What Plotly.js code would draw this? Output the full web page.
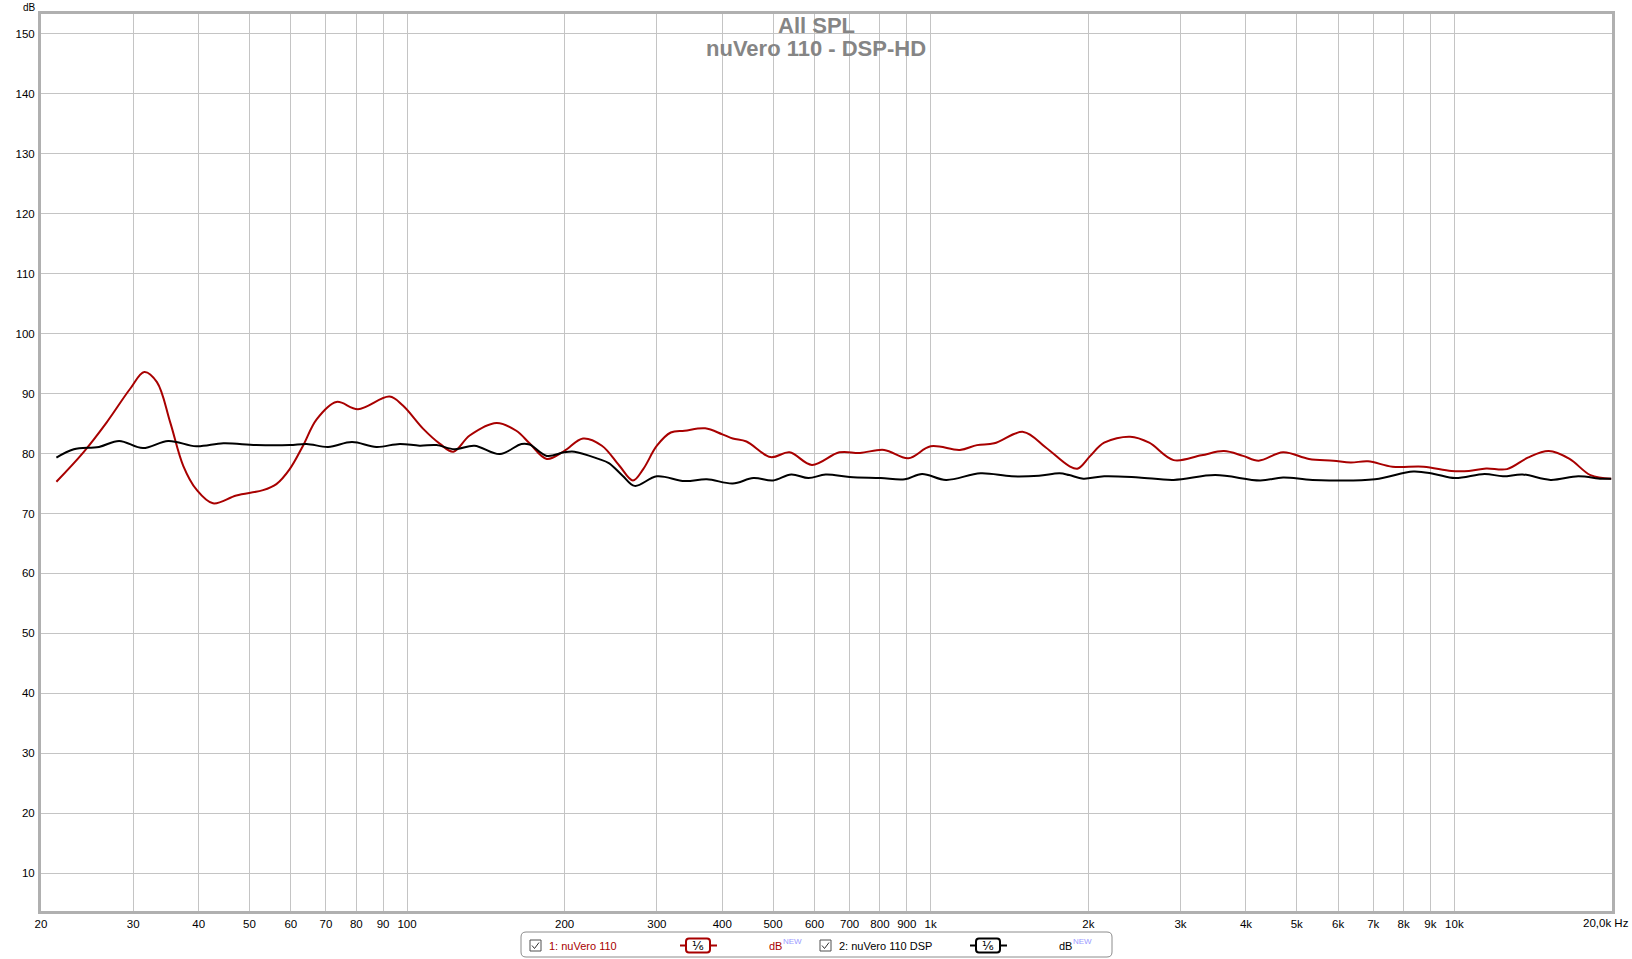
<!DOCTYPE html>
<html>
<head>
<meta charset="utf-8">
<script src="https://cdn.plot.ly/plotly-3.0.1.min.js"></script>
<style>html,body{margin:0;padding:0;background:#fff;}#chart{width:1632px;height:959px;}</style>
</head>
<body>
<div id="chart"></div>
<script>
// ---- data ----
const redFreq = [21.4,24.1,26.7,29.6,31.5,33.3,35.3,37.4,39.6,42.6,47.2,53.1,56.3,59.7,63.3,67.2,73.3,80.6,92.6,98.2,107.4,115.6,122.6,131.7,148.2,161.7,171.4,184.9,199.5,216.8,235.6,254.2,270,282.5,300,318.9,338.9,370.9,400.1,418.8,444.8,494.6,537.6,593.2,669.4,733,815,906,1000,1137,1226,1322,1503,1659,1839,1911,2017,2144,2404,2614,2910,3288,3631,3948,4229,4708,5277,5875,6339,6842,7613,8738,9870,10655,11500,12605,13810,15145,16595,18190,19930];
const redDb = [75.3,80.2,85.2,90.8,93.6,91.9,85.2,77.9,74.0,71.7,73.0,73.9,74.9,77.4,81.3,85.7,88.6,87.4,89.5,88.0,84.1,81.6,80.3,83.0,85.1,83.8,81.7,79.1,80.4,82.5,81.3,78.0,75.5,77.4,81.3,83.5,83.8,84.2,83.2,82.5,82.0,79.4,80.2,78.1,80.2,80.1,80.6,79.2,81.2,80.6,81.4,81.7,83.6,81.0,77.9,77.5,79.6,81.8,82.8,81.8,78.9,79.7,80.4,79.6,78.8,80.2,79.1,78.8,78.5,78.7,77.8,77.8,77.1,77.1,77.5,77.4,79.3,80.4,79.1,76.4,75.8];

const blackFreq = [21.4,23.1,25.8,28.2,31.3,35,39.6,44.6,51.5,59.7,64.3,70.7,78.5,87.4,96.9,105.7,113.8,123.3,134.5,150.4,165.4,171.4,184.9,199.5,208.8,232.1,242.9,258,272.1,300,338.9,373.7,418.8,458.5,500,541.6,584.2,630.1,700.2,802.7,892.3,962.5,1070,1245,1427,1610,1763,1839,1956,2144,2497,2910,3494,4260,4708,5360,7055,8347,9148,10030,11420,12380,13500,15260,17240,19100,19930];
const blackDb = [79.3,80.7,81.1,82.1,80.9,82.1,81.2,81.7,81.4,81.4,81.6,81.1,81.9,81.1,81.6,81.3,81.4,80.7,81.3,79.9,81.6,81.5,79.6,80.2,80.3,79.1,78.4,76.3,74.6,76.2,75.4,75.7,75.0,75.9,75.5,76.5,75.9,76.5,76.1,75.9,75.7,76.6,75.6,76.7,76.2,76.3,76.7,76.4,75.8,76.2,76.0,75.6,76.4,75.5,76.0,75.6,75.7,77.0,76.6,75.9,76.6,76.2,76.5,75.6,76.2,75.8,75.8];

const seriesNames = ["1: nuVero 110", "2: nuVero 110 DSP"];
const xTickVals = [20,30,40,50,60,70,80,90,100,200,300,400,500,600,700,800,900,1000,2000,3000,4000,5000,6000,7000,8000,9000,10000,20000];
const xTickText = ["20","30","40","50","60","70","80","90","100","200","300","400","500","600","700","800","900","1k","2k","3k","4k","5k","6k","7k","8k","9k","10k","20,0k Hz"];
const yTickVals = [10,20,30,40,50,60,70,80,90,100,110,120,130,140,150];
const titleLines = ["All SPL", "nuVero 110 - DSP-HD"];
const yUnit = "dB";

// ---- layout helpers (pixel -> paper) ----
const W = 1632, H = 959;
const L = 41, R = 1612, T = 14, B = 911;
const px = x => (x - L) / (R - L);
const py = y => (B - y) / (B - T);

const RED = "#a80000";
const font = "Liberation Sans, Arial, sans-serif";
const tickSize = 11.5;

const traces = [
  {x: redFreq, y: redDb, name: seriesNames[0], type: "scatter", mode: "lines",
   line: {color: RED, width: 2, shape: "spline", smoothing: 1}},
  {x: blackFreq, y: blackDb, name: seriesNames[1], type: "scatter", mode: "lines",
   line: {color: "#000000", width: 2, shape: "spline", smoothing: 1}}
];

const shapes = [];
const annotations = [];

// title, two lines
const titleFont = {family: font, size: 22, color: "#858585", weight: "bold"};
annotations.push({xref: "paper", yref: "paper", x: px(816), y: py(25.5), xanchor: "center", yanchor: "middle",
  text: "<b>" + titleLines[0] + "</b>", showarrow: false, font: titleFont});
annotations.push({xref: "paper", yref: "paper", x: px(816), y: py(48.5), xanchor: "center", yanchor: "middle",
  text: "<b>" + titleLines[1] + "</b>", showarrow: false, font: titleFont});

// last x tick label drawn as annotation (right aligned)
const lastLabel = xTickText[xTickText.length - 1];
const axisTickText = xTickText.slice(0, -1).concat([""]);
annotations.push({xref: "paper", yref: "paper", x: px(1631), y: py(915), xanchor: "right", yanchor: "top",
  text: lastLabel, showarrow: false, font: {family: font, size: tickSize, color: "#000"}});
annotations.push({xref: "paper", yref: "paper", x: px(29), y: py(0), xanchor: "center", yanchor: "top",
  text: yUnit, showarrow: false, font: {family: font, size: 10, color: "#000"}});

// legend box
function roundRect(x0, y0, x1, y1, r) {
  const X = v => px(v), Y = v => py(v);
  return `M ${X(x0 + r)} ${Y(y0)} L ${X(x1 - r)} ${Y(y0)} Q ${X(x1)} ${Y(y0)} ${X(x1)} ${Y(y0 + r)} ` +
         `L ${X(x1)} ${Y(y1 - r)} Q ${X(x1)} ${Y(y1)} ${X(x1 - r)} ${Y(y1)} L ${X(x0 + r)} ${Y(y1)} ` +
         `Q ${X(x0)} ${Y(y1)} ${X(x0)} ${Y(y1 - r)} L ${X(x0)} ${Y(y0 + r)} Q ${X(x0)} ${Y(y0)} ${X(x0 + r)} ${Y(y0)} Z`;
}
shapes.push({type: "path", xref: "paper", yref: "paper", path: roundRect(521, 932, 1112, 957, 5),
  line: {color: "#8c8c8c", width: 1}, fillcolor: "#ffffff"});

function legendItem(offset, name, color, dbColor) {
  const cx = 530 + offset;
  shapes.push({type: "rect", xref: "paper", yref: "paper", x0: px(cx), x1: px(cx + 11), y0: py(940), y1: py(951),
    line: {color: "#505050", width: 1}, fillcolor: "#ffffff"});
  shapes.push({type: "path", xref: "paper", yref: "paper",
    path: `M ${px(cx + 2)} ${py(945.5)} L ${px(cx + 4.5)} ${py(948.5)} L ${px(cx + 9)} ${py(942.5)}`,
    line: {color: "#303030", width: 1}});
  annotations.push({xref: "paper", yref: "paper", x: px(547 + offset), y: py(945.5), xanchor: "left", yanchor: "middle",
    text: name, showarrow: false, font: {family: font, size: 11, color: color}});
  const sx = 680 + offset;
  shapes.push({type: "line", xref: "paper", yref: "paper", x0: px(sx), x1: px(sx + 6), y0: py(945.5), y1: py(945.5),
    line: {color: color, width: 2}});
  shapes.push({type: "line", xref: "paper", yref: "paper", x0: px(sx + 30), x1: px(sx + 37), y0: py(945.5), y1: py(945.5),
    line: {color: color, width: 2}});
  shapes.push({type: "path", xref: "paper", yref: "paper", path: roundRect(sx + 6, 938.5, sx + 30, 952.5, 3),
    line: {color: color, width: 2}, fillcolor: "#ffffff"});
  annotations.push({xref: "paper", yref: "paper", x: px(sx + 18), y: py(945.5), xanchor: "center", yanchor: "middle",
    text: "¹⁄₆", showarrow: false, font: {family: "DejaVu Sans, sans-serif", size: 12, color: "#000"}});
  annotations.push({xref: "paper", yref: "paper", x: px(767 + offset), y: py(946), xanchor: "left", yanchor: "middle",
    text: "dB", showarrow: false, font: {family: font, size: 11, color: dbColor}});
  annotations.push({xref: "paper", yref: "paper", x: px(781 + offset), y: py(941), xanchor: "left", yanchor: "middle",
    text: "NEW", showarrow: false, font: {family: font, size: 8, color: "#9a9aff"}});
}
legendItem(0, seriesNames[0], RED, RED);
legendItem(290, seriesNames[1], "#000000", "#000000");

const layout = {
  width: W, height: H,
  paper_bgcolor: "#ffffff", plot_bgcolor: "#ffffff",
  margin: {l: L, r: W - R, t: T, b: H - B, pad: 0},
  showlegend: false,
  xaxis: {type: "log", range: [Math.log10(20), Math.log10(20000)],
    tickmode: "array", tickvals: xTickVals, ticktext: axisTickText,
    showgrid: true, gridcolor: "#c4c4c4", gridwidth: 1,
    ticks: "", tickfont: {family: font, size: tickSize, color: "#000"},
    showline: true, mirror: true, linecolor: "#b0b0b0", linewidth: 3,
    zeroline: false, fixedrange: true},
  yaxis: {range: [3.7, 153.3], tickmode: "array", tickvals: yTickVals,
    showgrid: true, gridcolor: "#c4c4c4", gridwidth: 1,
    ticks: "outside", ticklen: 1, tickcolor: "rgba(0,0,0,0)",
    tickfont: {family: font, size: tickSize, color: "#000"},
    showline: true, mirror: true, linecolor: "#b0b0b0", linewidth: 3,
    zeroline: false, fixedrange: true},
  shapes: shapes,
  annotations: annotations
};

Plotly.newPlot("chart", traces, layout, {displayModeBar: false, staticPlot: true});
</script>
</body>
</html>
